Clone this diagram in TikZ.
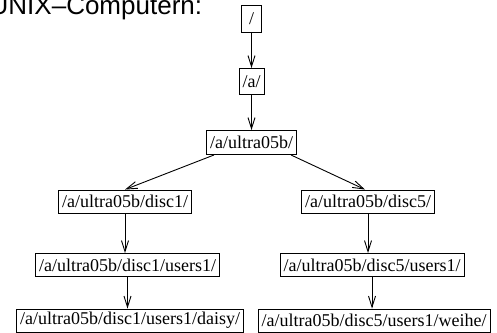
\documentclass[tikz,border=0pt]{standalone}
\usepackage{fontspec}
\setmainfont{Liberation Serif}
\newfontfamily\titlefont{Liberation Sans}
\usetikzlibrary{arrows.meta}

\tikzset{
  dirbox/.style={draw, line width=0.9bp, font=\fontsize{18bp}{20bp}\selectfont,
    inner xsep=3.5bp, inner ysep=0pt, minimum height=23bp, minimum width=20bp},
  link/.style={line width=0.9bp, -{Straight Barb[length=11bp,width=7bp,line width=0.9bp]}},
}

\begin{document}
\begin{tikzpicture}[x=1bp, y=-1bp]
  \useasboundingbox (0,0) rectangle (497,332);

  % heading, partly outside the page on the left and top
  \node[anchor=base west, inner sep=0pt, font=\titlefont\fontsize{26bp}{28bp}\selectfont]
    (title) at (-10.5,14) {UNIX–Computern:};

  % directory path tree
  \node[dirbox, minimum height=27bp] (root)  at (251.5,19)   {/};
  \node[dirbox, minimum height=26bp] (a)     at (251.5,81.5) {/a/};
  \node[dirbox, minimum height=24bp] (ultra) at (251.5,142.5) {/a/ultra05b/};
  \node[dirbox] (disc1) at (125,201.5) {/a/ultra05b/disc1/};
  \node[dirbox] (disc5) at (368,201.5) {/a/ultra05b/disc5/};
  \node[dirbox] (u1)    at (127.5,265) {/a/ultra05b/disc1/users1/};
  \node[dirbox] (u5)    at (372,265)   {/a/ultra05b/disc5/users1/};
  \node[dirbox] (daisy) at (130,320.5) {/a/ultra05b/disc1/users1/daisy/};
  \node[dirbox] (weihe) at (374,320.5) {/a/ultra05b/disc5/users1/weihe/};

  \draw[link] (root) -- (a);
  \draw[link] (a) -- (ultra);
  \draw[link] ([xshift=8bp]ultra.south west) -- (disc1.north);
  \draw[link] ([xshift=-6bp]ultra.south east) -- ([xshift=-3bp]disc5.north);
  \draw[link] (disc1) -- (disc1 |- u1.north);
  \draw[link] (disc5) -- (disc5 |- u5.north);
  \draw[link] (u1) -- (u1 |- daisy.north);
  \draw[link] (u5) -- (u5 |- weihe.north);
\end{tikzpicture}
\end{document}
